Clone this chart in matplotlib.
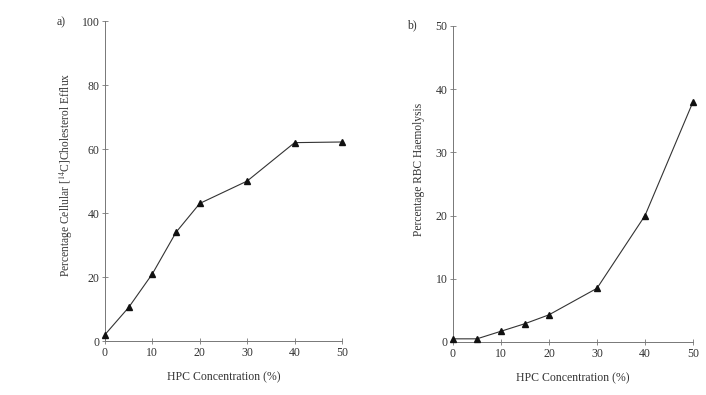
import matplotlib
matplotlib.use("Agg")
import matplotlib.pyplot as plt

plt.rcParams['font.family'] = ['Liberation Serif', 'DejaVu Serif']
plt.rcParams['mathtext.fontset'] = 'stix'

# Data
hpc = [0, 5, 10, 15, 20, 30, 40, 50]
efflux = [2, 10.5, 21, 34, 43, 50, 62, 62.2]
haemolysis = [0.5, 0.5, 1.7, 2.9, 4.3, 8.5, 20, 38]

xticks = [0, 10, 20, 30, 40, 50]
yticks_a = [0, 20, 40, 60, 80, 100]
yticks_b = [0, 10, 20, 30, 40, 50]

fig = plt.figure(figsize=(7.06, 3.95), dpi=100)
ax1 = fig.add_axes([0.1487, 0.1367, 0.3357, 0.810])
ax2 = fig.add_axes([0.6416, 0.1342, 0.340, 0.800])

spine_col = '#777777'
panels = [(ax1, efflux, yticks_a, 'Percentage Cellular [$^{14}$C]Cholesterol Efflux', (-0.127, 0.519)),
          (ax2, haemolysis, yticks_b, 'Percentage RBC Haemolysis', (-0.115, 0.547))]
for ax, y, yt, lab, lpos in panels:
    ax.plot(hpc, y, color='#333333', linewidth=0.8, marker='^', markersize=5,
            markerfacecolor='#111111', markeredgecolor='#111111', clip_on=False, zorder=3)
    ax.set_xlim(0, 50)
    ax.set_ylim(yt[0], yt[-1])
    ax.set_xticks(xticks)
    ax.set_yticks(yt)
    ax.spines['top'].set_visible(False)
    ax.spines['right'].set_visible(False)
    for s in ['left', 'bottom']:
        ax.spines[s].set_color(spine_col)
        ax.spines[s].set_linewidth(0.7)
    ax.tick_params(axis='both', direction='inout', length=4, width=0.6, color=spine_col,
                   labelsize=8.5, labelcolor='#333333', pad=2)
    ax.set_xlabel('HPC Concentration (%)', fontsize=8.5, color='#333333', labelpad=9)
    ax.set_ylabel(lab, fontsize=8.3, color='#333333')
    ax.yaxis.set_label_coords(*lpos)

fig.text(0.087, 0.943, 'a)', fontsize=8.5, color='#333333', ha='center', va='center')
fig.text(0.583, 0.937, 'b)', fontsize=8.5, color='#333333', ha='center', va='center')

fig.savefig('out.png', dpi=100)
